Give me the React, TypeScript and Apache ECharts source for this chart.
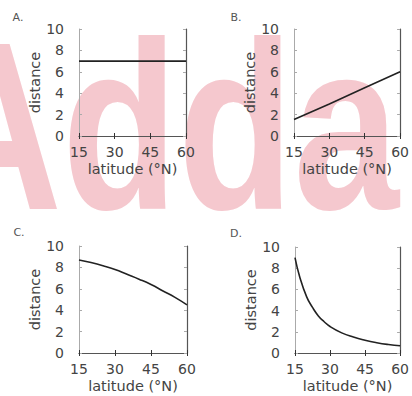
import React, { useEffect, useRef } from "react";
import * as echarts from "echarts";

const latA = [15, 60];
const distA = [7, 7];
const latB = [15, 30, 45, 60];
const distB = [1.55, 3.0, 4.5, 6.0];
const latC = [15, 20, 25, 30, 35, 40, 45, 50, 55, 60];
const distC = [8.7, 8.45, 8.15, 7.8, 7.35, 6.9, 6.4, 5.8, 5.2, 4.5];
const latD = [15, 17, 20, 22.5, 25, 27.5, 30, 35, 40, 45, 50, 55, 60];
const distD = [9.0, 7.2, 5.3, 4.3, 3.5, 2.95, 2.5, 1.9, 1.5, 1.2, 0.97, 0.8, 0.68];
const panelLabels = ["A.", "B.", "C.", "D."];
const xTicks = { min: 15, max: 60, interval: 15 };
const yTicks = { min: 0, max: 10, interval: 2 };
const xName = "latitude (°N)";
const yName = "distance";
const watermark = "Adda";

const grids = [
  { left: 79, top: 29, width: 107, height: 107 },
  { left: 294, top: 29, width: 110, height: 107 },
  { left: 79, top: 246, width: 108, height: 107 },
  { left: 295, top: 247, width: 109, height: 106 },
];
const labelPos = [
  [18, 17],
  [236, 17],
  [19, 232],
  [236, 233],
];

const FONT = "DejaVu Sans";

export default function App() {
  const ref = useRef<HTMLDivElement>(null);
  useEffect(() => {
    if (!ref.current) return;
    const chart = echarts.init(ref.current, undefined, { renderer: "svg" });
    const datasets = [
      latA.map((x, i) => [x, distA[i]]),
      latB.map((x, i) => [x, distB[i]]),
      latC.map((x, i) => [x, distC[i]]),
      latD.map((x, i) => [x, distD[i]]),
    ];
    const xAxis: any[] = [];
    const yAxis: any[] = [];
    grids.forEach((_, g) => {
      xAxis.push({
        type: "value",
        gridIndex: g,
        position: "bottom",
        ...xTicks,
        name: xName,
        nameLocation: "middle",
        nameGap: 25,
        nameTextStyle: { fontFamily: FONT, fontSize: 14.5, color: "#444" },
        axisLine: { show: true, lineStyle: { color: "#aaa", width: 1 } },
        axisTick: { show: true, inside: true, length: 3, lineStyle: { color: "#333" } },
        axisLabel: { fontFamily: FONT, fontSize: 14, color: "#444", margin: 9 },
        splitLine: { show: false },
      });
      xAxis.push({
        type: "value",
        gridIndex: g,
        position: "top",
        ...xTicks,
        axisLine: { show: true, lineStyle: { color: "#555", width: 1.2 } },
        axisTick: { show: true, inside: true, length: 3, lineStyle: { color: "#333" } },
        axisLabel: { show: false },
        splitLine: { show: false },
      });
      yAxis.push({
        type: "value",
        gridIndex: g,
        position: "left",
        ...yTicks,
        name: yName,
        nameLocation: "middle",
        nameGap: 33,
        nameTextStyle: { fontFamily: FONT, fontSize: 14.5, color: "#444" },
        axisLine: { show: true, lineStyle: { color: "#aaa", width: 1 } },
        axisTick: { show: true, inside: true, length: 3, lineStyle: { color: "#aaa" } },
        axisLabel: { fontFamily: FONT, fontSize: 14, color: "#444", margin: 15 },
        splitLine: { show: false },
      });
      yAxis.push({
        type: "value",
        gridIndex: g,
        position: "right",
        ...yTicks,
        axisLine: { show: true, lineStyle: { color: "#555", width: 1.2 } },
        axisTick: { show: true, inside: true, length: 3, lineStyle: { color: "#aaa" } },
        axisLabel: { show: false },
        splitLine: { show: false },
      });
    });
    const series = datasets.map((d, g) => ({
      type: "line",
      xAxisIndex: g * 2,
      yAxisIndex: g * 2,
      data: d,
      showSymbol: false,
      smooth: g >= 2,
      lineStyle: { color: "#222", width: 1.6 },
      z: 5,
    }));
    const graphic: any[] = [
      {
        type: "text",
        x: -75,
        y: 126,
        scaleX: 0.79,
        z: -10,
        silent: true,
        style: {
          text: watermark,
          font: 'bold 240px "Liberation Sans"',
          fill: "#f5c8ce",
          verticalAlign: "middle",
          align: "left",
        },
      },
      ...panelLabels.map((t, i) => ({
        type: "text",
        x: labelPos[i][0],
        y: labelPos[i][1],
        style: {
          text: t,
          font: `11px "${FONT}"`,
          fill: "#555",
          align: "center",
          verticalAlign: "middle",
        },
      })),
    ];
    chart.setOption({
      animation: false,
      backgroundColor: "#fff",
      grid: grids.map((g) => ({ ...g, containLabel: false })),
      xAxis,
      yAxis,
      series,
      graphic,
    });
    return () => chart.dispose();
  }, []);
  return <div ref={ref} style={{ width: 412, height: 396, position: "fixed", left: 0, top: 0 }} />;
}
